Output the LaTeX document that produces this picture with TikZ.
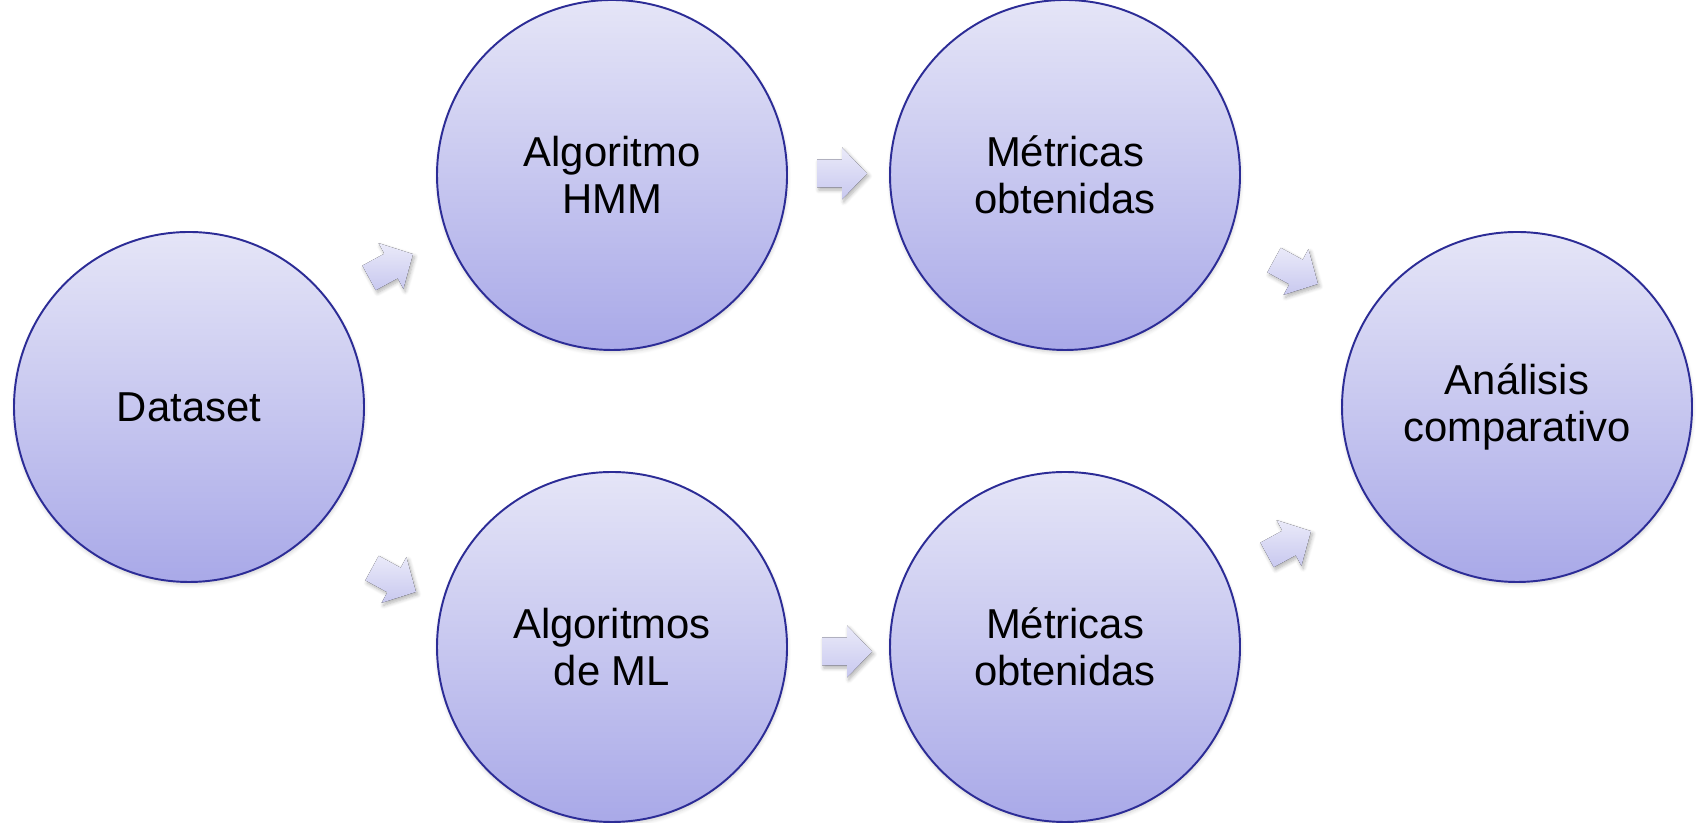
\documentclass[tikz,border=0pt]{standalone}
\usepackage{fontspec}
\setmainfont{Liberation Sans}
\usepackage{xcolor}
\usepackage{tikz}
\usetikzlibrary{shadows.blur}
\definecolor{StageEdge}{HTML}{2C2C96}
\definecolor{StageTop}{HTML}{E5E5F7}
\definecolor{StageBottom}{HTML}{A9A9E8}
\definecolor{ArrowTop}{HTML}{EAEAF9}
\definecolor{ArrowBottom}{HTML}{C8C8EF}
\newcommand{\FlowArrow}[3]{%
  \coordinate (#1) at (#2);
  \fill[flowarrow,shift={(#1)},rotate=#3]
    (-0.5,-0.28) -- (0,-0.28) -- (0,-0.52) -- (0.5,0) -- (0,0.52) -- (0,0.28) -- (-0.5,0.28) -- cycle;%
}

\begin{document}
\begin{tikzpicture}[
  font=\fontsize{23.8}{26.5}\selectfont,
  stage/.style={circle,draw=StageEdge,line width=1.1pt,minimum size=7cm,inner sep=0pt,
    top color=StageTop,bottom color=StageBottom,align=center,
    blur shadow={shadow xshift=0.3pt,shadow yshift=-1.5pt,shadow opacity=18,shadow blur steps=6}},
  flowarrow/.style={top color=ArrowTop,bottom color=ArrowBottom,
    blur shadow={shadow xshift=1pt,shadow yshift=-1.5pt,shadow opacity=30,shadow blur steps=6}},
]
  \useasboundingbox (0,0) rectangle (34.04,16.46);

  \node[stage] (dataset) at (3.78,8.32) {Dataset};
  \node[stage] (hmm) at (12.24,12.96) {Algoritmo\\HMM};
  \node[stage] (mlalgo) at (12.24,3.52) {Algoritmos\\de ML};
  \node[stage] (hmmmetrics) at (21.30,12.96) {Métricas\\obtenidas};
  \node[stage] (mlmetrics) at (21.30,3.52) {Métricas\\obtenidas};
  \node[stage] (analysis) at (30.34,8.32) {Análisis\\comparativo};

  \FlowArrow{tohmm}{7.82,11.14}{28.5}
  \FlowArrow{toml}{7.88,4.86}{-28.5}
  \FlowArrow{tohmmmetrics}{16.84,12.99}{0}
  \FlowArrow{tomlmetrics}{16.94,3.43}{0}
  \FlowArrow{fromhmm}{25.92,11.02}{-28.5}
  \FlowArrow{fromml}{25.78,5.60}{28.5}
\end{tikzpicture}
\end{document}
